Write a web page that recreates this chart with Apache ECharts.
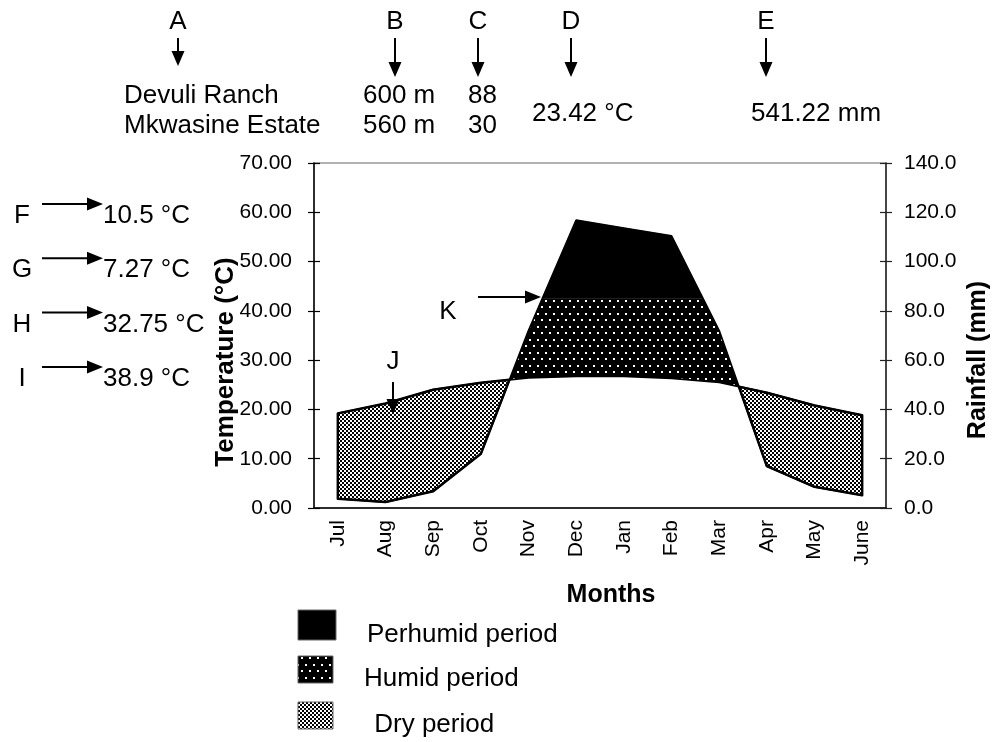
<!DOCTYPE html>
<html>
<head>
<meta charset="utf-8">
<script src="https://cdn.jsdelivr.net/npm/echarts@6/dist/echarts.min.js"></script>
<style>
  html, body { margin: 0; padding: 0; background: #fff; }
  #chart { width: 995px; height: 742px; }
</style>
</head>
<body>
<div id="chart"></div>
<script>
// Monthly climate normals (hydrological year, July to June)
const months = ['Jul', 'Aug', 'Sep', 'Oct', 'Nov', 'Dec', 'Jan', 'Feb', 'Mar', 'Apr', 'May', 'June'];
const temperature = [19.2, 21.2, 24.0, 25.4, 26.4, 26.7, 26.7, 26.3, 25.5, 23.4, 20.8, 18.8]; // °C
const rainfall = [3.8, 2.4, 6.8, 22.0, 72.0, 116.8, 113.6, 110.4, 72.0, 17.0, 8.6, 5.2];     // mm
const perhumidLimit = 85; // mm, boundary between humid and perhumid months

// Station header
const stationNames = ['Devuli Ranch', 'Mkwasine Estate'];
const stationAltitudes = ['600 m', '560 m'];
const stationYears = ['88', '30'];
const meanAnnualTemp = '23.42 °C';
const meanAnnualRain = '541.22 mm';
const headerLetters = ['A', 'B', 'C', 'D', 'E'];

// Temperature extremes
const sideLetters = ['F', 'G', 'H', 'I'];
const sideValues = ['10.5 °C', '7.27 °C', '32.75 °C', '38.9 °C'];

// Legend
const legendNames = ['Perhumid period', 'Humid period', ' Dry period'];

const FONT = '"Liberation Sans", Arial, Helvetica, sans-serif';
const BIG = 26;

function makeTile(w, h, bg, fg, cells) {
  const c = document.createElement('canvas');
  c.width = w; c.height = h;
  const g = c.getContext('2d');
  g.fillStyle = bg; g.fillRect(0, 0, w, h);
  g.fillStyle = fg;
  cells.forEach(function (r) { g.fillRect(r[0], r[1], r[2], r[3]); });
  return c;
}
const dryFill = { image: makeTile(4, 4, '#fff', '#000', [[0, 0, 2, 2], [2, 2, 2, 2]]), repeat: 'repeat' };
const humidFill = { image: makeTile(8, 13, '#000', '#fff', [[1, 1, 2, 2], [5, 7, 2, 2]]), repeat: 'repeat' };
const perhumidFill = '#000';

const chart = echarts.init(document.getElementById('chart'), null, { renderer: 'canvas' });

// Clip a polygon against a horizontal line (pixel space)
function clipHorizontal(poly, yLine, keepBelow) {
  const out = [];
  for (let i = 0; i < poly.length; i++) {
    const p = poly[i], q = poly[(i + 1) % poly.length];
    const pin = keepBelow ? p[1] >= yLine : p[1] <= yLine;
    const qin = keepBelow ? q[1] >= yLine : q[1] <= yLine;
    if (pin) out.push(p);
    if (pin !== qin) {
      const k = (yLine - p[1]) / (q[1] - p[1]);
      out.push([p[0] + (q[0] - p[0]) * k, yLine]);
    }
  }
  return out;
}

// Pixel position of a rainfall value on the right-hand axis
function rainPoint(api, params, i, v) {
  let pt = null;
  try { pt = chart.convertToPixel({ xAxisIndex: 0, yAxisIndex: 1 }, [i, v]); } catch (e) { pt = null; }
  if (!pt || !isFinite(pt[1])) {
    const cs = params.coordSys;
    const x = api.coord([i, 0])[0];
    pt = [x, cs.y + cs.height * (1 - v / 140)];
  }
  return pt;
}

// Dry / humid / perhumid regions between the temperature and rainfall curves
function renderPeriods(params, api) {
  if (params.dataIndex !== 0) return null;
  const n = months.length;
  const nodes = [];
  for (let i = 0; i < n; i++) {
    nodes.push({ t: api.coord([i, temperature[i]]), r: rainPoint(api, params, i, rainfall[i]) });
  }
  const seq = [];
  for (let i = 0; i < n; i++) {
    const a = nodes[i];
    seq.push({ t: a.t, r: a.r, wet: a.r[1] < a.t[1] });
    if (i < n - 1) {
      const b = nodes[i + 1];
      const da = a.t[1] - a.r[1], db = b.t[1] - b.r[1];
      if (da * db < 0) {
        const k = da / (da - db);
        const p = [a.t[0] + (b.t[0] - a.t[0]) * k, a.t[1] + (b.t[1] - a.t[1]) * k];
        seq.push({ t: p, r: p, cross: true });
      }
    }
  }
  const runs = [];
  let cur = [];
  seq.forEach(function (nd) {
    cur.push(nd);
    if (nd.cross) { runs.push(cur); cur = [nd]; }
  });
  runs.push(cur);

  const yLimit = rainPoint(api, params, 0, perhumidLimit)[1];
  const children = [];
  runs.forEach(function (run) {
    const ref = run.find(function (nd) { return !nd.cross; });
    if (!ref) return;
    const wet = ref.wet;
    const upper = run.map(function (nd) { return wet ? nd.r : nd.t; });
    const lower = run.slice().reverse().map(function (nd) { return wet ? nd.t : nd.r; });
    const poly = upper.concat(lower);
    if (!wet) {
      children.push({ type: 'polygon', shape: { points: poly },
        style: { fill: dryFill, stroke: '#000', lineWidth: 2.5, lineJoin: 'round' } });
    } else {
      const humid = clipHorizontal(poly, yLimit, true);
      const perhumid = clipHorizontal(poly, yLimit, false);
      if (humid.length > 2) children.push({ type: 'polygon', shape: { points: humid }, style: { fill: humidFill } });
      if (perhumid.length > 2) children.push({ type: 'polygon', shape: { points: perhumid },
        style: { fill: perhumidFill, stroke: '#000', lineWidth: 0.5 } });
    }
  });
  return { type: 'group', children: children };
}

function text(x, y, str, size, opts) {
  opts = opts || {};
  return {
    type: 'text', x: x, y: y, rotation: opts.rotation || 0, z: 10,
    style: {
      text: str, fill: '#000',
      font: (opts.bold ? 'bold ' : '') + size + 'px ' + FONT,
      align: opts.align || 'left', verticalAlign: 'middle'
    }
  };
}
function arrowDown(x, y1, y2) {
  return { type: 'group', children: [
    { type: 'line', z: 10, shape: { x1: x, y1: y1, x2: x, y2: y2 - 12 }, style: { stroke: '#000', lineWidth: 2 } },
    { type: 'polygon', z: 10, shape: { points: [[x - 6.5, y2 - 15], [x + 6.5, y2 - 15], [x, y2]] }, style: { fill: '#000' } }
  ] };
}
function arrowRight(x1, x2, y) {
  return { type: 'group', children: [
    { type: 'line', z: 10, shape: { x1: x1, y1: y, x2: x2 - 12, y2: y }, style: { stroke: '#000', lineWidth: 2 } },
    { type: 'polygon', z: 10, shape: { points: [[x2 - 16, y - 6.5], [x2 - 16, y + 6.5], [x2, y]] }, style: { fill: '#000' } }
  ] };
}

const graphics = [];
// Header letters with arrows
const letterX = [178, 395, 478, 571, 766];
const arrowEnd = [66, 77, 77, 77, 77];
headerLetters.forEach(function (l, i) {
  graphics.push(text(letterX[i], 22, l, BIG, { align: 'center' }));
  graphics.push(arrowDown(letterX[i], 38, arrowEnd[i]));
});
stationNames.forEach(function (s, i) {
  graphics.push(text(124, 96 + i * 30, s, BIG));
  graphics.push(text(363, 96 + i * 30, stationAltitudes[i], BIG));
  graphics.push(text(468, 96 + i * 30, stationYears[i], BIG));
});
graphics.push(text(532, 114, meanAnnualTemp, BIG));
graphics.push(text(751, 114, meanAnnualRain, BIG));
// Side letters with arrows
sideLetters.forEach(function (l, i) {
  const y = 216 + i * 54.3;
  graphics.push(text(22, y, l, BIG, { align: 'center' }));
  graphics.push(arrowRight(42, 103, y - 12));
  graphics.push(text(103, y, sideValues[i], BIG));
});
// J and K markers
graphics.push(text(393, 362, 'J', BIG, { align: 'center' }));
graphics.push(arrowDown(393, 382, 414));
graphics.push(text(448, 312, 'K', BIG, { align: 'center' }));
graphics.push(arrowRight(478, 541, 297));
// Axis titles
graphics.push(text(226, 362, 'Temperature (°C)', 26, { bold: true, align: 'center', rotation: Math.PI / 2 }));
graphics.push(text(978, 360, 'Rainfall (mm)', 25, { bold: true, align: 'center', rotation: Math.PI / 2 }));
graphics.push(text(611, 595, 'Months', 25, { bold: true, align: 'center' }));
// Legend
const legendFills = [perhumidFill, humidFill, dryFill];
const legendBoxes = [[298, 610, 38, 30], [298, 656, 35, 27], [298, 702, 35, 27]];
const legendTextPos = [[367, 635], [364, 679], [367, 725]];
legendNames.forEach(function (name, i) {
  const b = legendBoxes[i];
  graphics.push({ type: 'rect', z: 10, shape: { x: b[0], y: b[1], width: b[2], height: b[3] },
    style: { fill: legendFills[i], stroke: '#666', lineWidth: 1 } });
  graphics.push(text(legendTextPos[i][0], legendTextPos[i][1], name, BIG));
});

const axisFont = { fontSize: 21, color: '#000', fontFamily: FONT };

chart.setOption({
  animation: false,
  backgroundColor: '#fff',
  grid: { left: 314, right: 109, top: 163, bottom: 234, show: true, borderColor: '#999', borderWidth: 1.5 },
  xAxis: [
    { type: 'category', data: months, boundaryGap: true,
      axisLine: { lineStyle: { color: '#000', width: 1.5 } },
      axisTick: { length: 6, lineStyle: { color: '#000', width: 1.2 } },
      axisLabel: Object.assign({ rotate: 90, margin: 12, interval: 0 }, axisFont) },
    { type: 'category', data: months, boundaryGap: true, position: 'bottom',
      axisLine: { show: false },
      axisTick: { inside: true, length: 6, lineStyle: { color: '#000', width: 1.2 } },
      axisLabel: { show: false } }
  ],
  yAxis: [
    { type: 'value', min: 0, max: 70, interval: 10, position: 'left',
      axisLine: { show: true, lineStyle: { color: '#000', width: 1.5 } },
      axisTick: { show: true, length: 6, lineStyle: { color: '#000', width: 1.2 } },
      splitLine: { show: false },
      axisLabel: Object.assign({ margin: 22, formatter: function (v) { return v.toFixed(2); } }, axisFont) },
    { type: 'value', min: 0, max: 140, interval: 20, position: 'right',
      axisLine: { show: true, lineStyle: { color: '#222', width: 1.5 } },
      axisTick: { show: true, length: 6, lineStyle: { color: '#222', width: 1.2 } },
      splitLine: { show: false },
      axisLabel: Object.assign({ margin: 18, formatter: function (v) { return v.toFixed(1); } }, axisFont) },
    { type: 'value', min: 0, max: 70, interval: 10, position: 'left',
      axisLine: { show: false }, axisTick: { show: true, inside: true, length: 6, lineStyle: { color: '#000', width: 1.2 } },
      splitLine: { show: false }, axisLabel: { show: false } },
    { type: 'value', min: 0, max: 140, interval: 20, position: 'right',
      axisLine: { show: false }, axisTick: { show: true, inside: true, length: 6, lineStyle: { color: '#222', width: 1.2 } },
      splitLine: { show: false }, axisLabel: { show: false } }
  ],
  series: [
    { name: 'Periods', type: 'custom', xAxisIndex: 0, yAxisIndex: 0, silent: true, z: 2,
      renderItem: renderPeriods,
      encode: { x: 0, y: 1 },
      data: months.map(function (m, i) { return [i, temperature[i], rainfall[i]]; }) },
    { name: 'Temperature', type: 'line', xAxisIndex: 0, yAxisIndex: 0, data: temperature, z: 3,
      symbol: 'none', silent: true, lineStyle: { color: '#000', width: 1.8 } },
    { name: 'Rainfall', type: 'line', xAxisIndex: 0, yAxisIndex: 1, data: rainfall, z: 3,
      symbol: 'none', silent: true, lineStyle: { color: '#000', width: 1.8 } }
  ],
  graphic: graphics
});
</script>
</body>
</html>
